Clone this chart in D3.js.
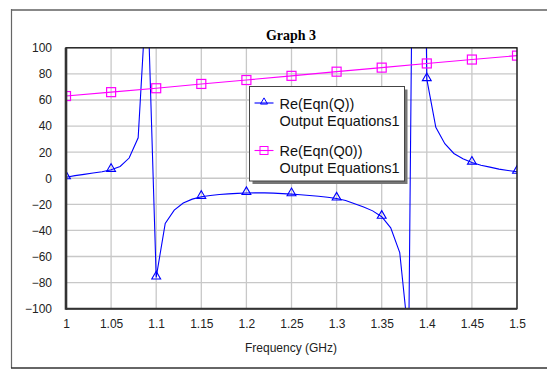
<!DOCTYPE html>
<html>
<head>
<meta charset="utf-8">
<script src="https://cdn.jsdelivr.net/npm/d3@7"></script>
<style>
  body { margin: 0; background: #fff; }
  svg { display: block; }
</style>
</head>
<body>
<script>
// Re(Eqn(Q)) sampled every 0.01 GHz
var freqQ = d3.range(0, 51).map(function(i){ return +(1 + i * 0.01).toFixed(2); });
var valuesQ = [
  0.8, 2, 3, 4, 5, 6.5, 9, 15.5, 31, 152,
  -76, -34.6, -24.4, -19, -16, -14.2, -13.2, -12.5, -12, -11.6,
  -11.3, -11.2, -11.2, -11.4, -11.8, -12.2, -12.6, -13.2, -13.8, -14.6,
  -15.5, -17, -19.5, -22, -25, -29.5, -38, -57, -124, 630,
  76, 39, 26.5, 19, 15, 12, 10, 8.5, 7, 6,
  5
];
// Re(Eqn(Q0)) sampled every 0.05 GHz
var freqQ0 = [1, 1.05, 1.1, 1.15, 1.2, 1.25, 1.3, 1.35, 1.4, 1.45, 1.5];
var valuesQ0 = [63, 66, 69, 72.3, 75.3, 78.5, 81.7, 84.8, 88, 91, 94];

var xTicks = [1, 1.05, 1.1, 1.15, 1.2, 1.25, 1.3, 1.35, 1.4, 1.45, 1.5];
var yTicks = [-100, -80, -60, -40, -20, 0, 20, 40, 60, 80, 100];

var series = [
  { name: "Re(Eqn(Q))", sub: "Output Equations1", color: "#0000ff", marker: "tri",
    pts: freqQ.map(function(f, i){ return { x: f, y: valuesQ[i], m: i % 5 === 0 }; }) },
  { name: "Re(Eqn(Q0))", sub: "Output Equations1", color: "#ff00ff", marker: "sq",
    pts: freqQ0.map(function(f, i){ return { x: f, y: valuesQ0[i], m: true }; }) }
];

var W = 547, H = 369;
var svg = d3.select("body").append("svg").attr("width", W).attr("height", H);

// outer frame (runs off the right edge)
svg.append("line").attr("x1", 11).attr("x2", W).attr("y1", 10).attr("y2", 10)
  .attr("stroke", "#888").attr("stroke-width", 2);
svg.append("line").attr("x1", 11.5).attr("x2", 11.5).attr("y1", 9).attr("y2", 368)
  .attr("stroke", "#666").attr("stroke-width", 1.2);
svg.append("line").attr("x1", 11).attr("x2", W).attr("y1", 368).attr("y2", 368)
  .attr("stroke", "#333").attr("stroke-width", 1.5);

var x0 = 66, x1 = 517, y0 = 47.8, y1 = 308.7;
var x = d3.scaleLinear().domain([1, 1.5]).range([x0, x1]);
var y = d3.scaleLinear().domain([-100, 100]).range([y1, y0]);

svg.append("text").attr("x", 291).attr("y", 40).attr("text-anchor", "middle")
  .style("font-family", "'Liberation Serif', 'Times New Roman', serif")
  .style("font-weight", "bold").style("font-size", "14px").text("Graph 3");

// grid
svg.append("g").selectAll("line").data(xTicks).enter().append("line")
  .attr("x1", function(d){ return x(d); }).attr("x2", function(d){ return x(d); })
  .attr("y1", y0).attr("y2", y1).attr("stroke", "#c8c8c8").attr("stroke-width", 1.3);
svg.append("g").selectAll("line").data(yTicks).enter().append("line")
  .attr("x1", x0).attr("x2", x1)
  .attr("y1", function(d){ return y(d); }).attr("y2", function(d){ return y(d); })
  .attr("stroke", "#c8c8c8").attr("stroke-width", 1.3);

// axes (labels only, via d3.axis)
var fmt = function(d){ return String(+d.toFixed(2)); };
var gx = svg.append("g").attr("transform", "translate(0," + (y1 + 8) + ")")
  .call(d3.axisBottom(x).tickValues(xTicks).tickFormat(fmt).tickSize(0));
var gy = svg.append("g").attr("transform", "translate(" + (x0 - 8) + ",0)")
  .call(d3.axisLeft(y).tickValues(yTicks).tickSize(0));
[gx, gy].forEach(function(g){
  g.select(".domain").remove();
  g.selectAll("text").style("font-family", "'Liberation Sans', Arial, sans-serif")
    .style("font-size", "12px").attr("fill", "#222");
});
gy.selectAll("text").attr("x", -6);

svg.append("text").attr("x", 291).attr("y", 352).attr("text-anchor", "middle")
  .style("font-family", "'Liberation Sans', Arial, sans-serif").style("font-size", "12px")
  .attr("fill", "#222").text("Frequency (GHz)");

// clip
svg.append("clipPath").attr("id", "clip").append("rect")
  .attr("x", x0).attr("y", y0).attr("width", x1 - x0).attr("height", y1 - y0);

var line = d3.line().x(function(d){ return x(d.x); }).y(function(d){ return y(d.y); });
var tri = d3.symbol().type(d3.symbolTriangle).size(34);

series.forEach(function(s){
  var g = svg.append("g").attr("clip-path", "url(#clip)");
  g.append("path").datum(s.pts).attr("d", line).attr("fill", "none")
    .attr("stroke", s.color).attr("stroke-width", 1.1);
  var mk = g.selectAll(".m").data(s.pts.filter(function(p){ return p.m; })).enter();
  if (s.marker === "tri") {
    mk.append("path").attr("d", tri)
      .attr("transform", function(d){ return "translate(" + x(d.x) + "," + (y(d.y) - 1) + ")"; })
      .attr("fill", "none").attr("stroke", s.color).attr("stroke-width", 1.1);
  } else {
    mk.append("rect").attr("x", function(d){ return x(d.x) - 4.5; })
      .attr("y", function(d){ return y(d.y) - 4.5; }).attr("width", 9).attr("height", 9)
      .attr("fill", "none").attr("stroke", s.color).attr("stroke-width", 1.2);
  }
});

// plot border
svg.append("rect").attr("x", x0).attr("y", y0).attr("width", x1 - x0).attr("height", y1 - y0)
  .attr("fill", "none").attr("stroke", "#111").attr("stroke-width", 1.3);
svg.append("line").attr("x1", x0).attr("x2", x0).attr("y1", y0).attr("y2", y1 + 1)
  .attr("stroke", "#333").attr("stroke-width", 2.6);
svg.append("line").attr("x1", x0).attr("x2", x1).attr("y1", y1).attr("y2", y1)
  .attr("stroke", "#333").attr("stroke-width", 2);

// legend
var lx = 249.5, ly = 86.5, lw = 155, lh = 94.5;
svg.append("rect").attr("x", lx + 3).attr("y", ly + 3).attr("width", lw).attr("height", lh)
  .attr("fill", "#777");
svg.append("rect").attr("x", lx).attr("y", ly).attr("width", lw).attr("height", lh)
  .attr("fill", "#fff").attr("stroke", "#444").attr("stroke-width", 1);
var leg = svg.append("g").selectAll("g").data(series).enter().append("g")
  .attr("transform", function(d, i){ return "translate(" + lx + "," + (ly + 16.5 + i * 47.5) + ")"; });
leg.append("line").attr("x1", 5).attr("x2", 24).attr("y1", 0).attr("y2", 0)
  .attr("stroke", function(d){ return d.color; }).attr("stroke-width", 1.1);
leg.each(function(d){
  var g = d3.select(this);
  if (d.marker === "tri") {
    g.append("path").attr("d", d3.symbol().type(d3.symbolTriangle).size(22))
      .attr("transform", "translate(14.5,-1)").attr("fill", "none")
      .attr("stroke", d.color).attr("stroke-width", 1);
  } else {
    g.append("rect").attr("x", 10.5).attr("y", -4).attr("width", 8).attr("height", 8)
      .attr("fill", "none").attr("stroke", d.color).attr("stroke-width", 1);
  }
});
leg.append("text").attr("x", 30).attr("y", 5.5)
  .style("font-family", "'Liberation Sans', Arial, sans-serif").style("font-size", "14.5px")
  .attr("fill", "#111").text(function(d){ return d.name; });
leg.append("text").attr("x", 30).attr("y", 22.5)
  .style("font-family", "'Liberation Sans', Arial, sans-serif").style("font-size", "14.5px")
  .attr("fill", "#111").text(function(d){ return d.sub; });
</script>
</body>
</html>
